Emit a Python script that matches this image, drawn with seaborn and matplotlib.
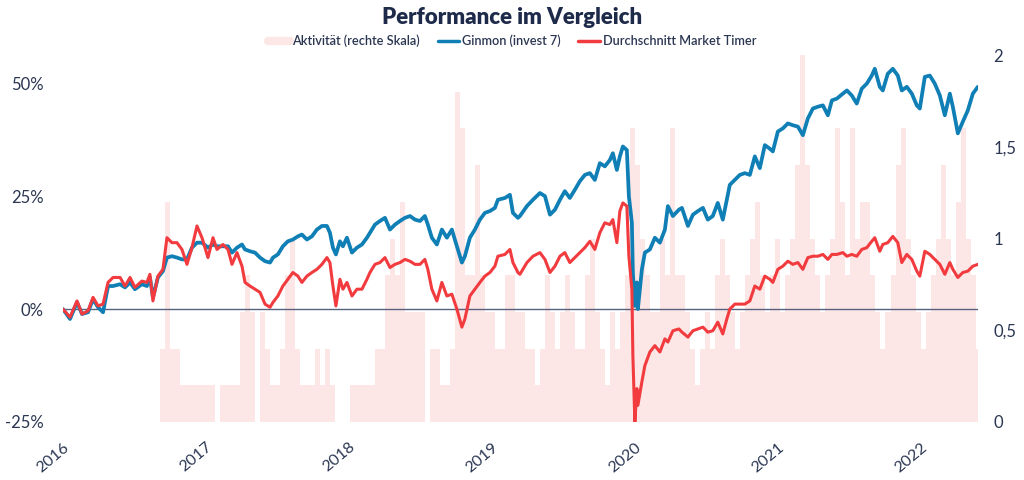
import numpy as np
import pandas as pd
import matplotlib
matplotlib.use("Agg")
import matplotlib.pyplot as plt
import seaborn as sns
from matplotlib.lines import Line2D
from matplotlib.ticker import FuncFormatter

# ---------------- data ----------------
# time in years since start of 2016
years_offset = [
    0.000, 0.049, 0.098, 0.133, 0.175, 0.210, 0.245, 0.280, 0.315, 0.350,
    0.399, 0.434, 0.469, 0.503, 0.552, 0.587, 0.608, 0.629, 0.664, 0.699,
    0.727, 0.762, 0.797, 0.832, 0.867, 0.902, 0.937, 0.972, 1.014, 1.049,
    1.077, 1.119, 1.154, 1.182, 1.217, 1.252, 1.273, 1.308, 1.343, 1.378,
    1.413, 1.448, 1.469, 1.503, 1.538, 1.573, 1.608, 1.643, 1.671, 1.706,
    1.741, 1.776, 1.811, 1.846, 1.867, 1.888, 1.909, 1.937, 1.958, 1.986,
    2.021, 2.056, 2.091, 2.126, 2.147, 2.182, 2.217, 2.252, 2.287, 2.322,
    2.357, 2.392, 2.427, 2.462, 2.497, 2.531, 2.552, 2.580, 2.615, 2.650,
    2.685, 2.720, 2.755, 2.790, 2.811, 2.846, 2.881, 2.916, 2.951, 2.986,
    3.021, 3.042, 3.091, 3.126, 3.147, 3.182, 3.196, 3.245, 3.287, 3.336,
    3.371, 3.406, 3.441, 3.476, 3.510, 3.545, 3.580, 3.615, 3.650, 3.685,
    3.720, 3.755, 3.790, 3.825, 3.846, 3.874, 3.895, 3.916, 3.944, 3.958,
    3.979, 3.986, 4.000, 4.014, 4.021, 4.049, 4.070, 4.105, 4.140, 4.175,
    4.210, 4.231, 4.266, 4.308, 4.329, 4.371, 4.406, 4.441, 4.476, 4.510,
    4.545, 4.580, 4.615, 4.643, 4.664, 4.699, 4.734, 4.769, 4.804, 4.839,
    4.874, 4.909, 4.944, 4.965, 5.000, 5.035, 5.070, 5.105, 5.140, 5.175,
    5.210, 5.245, 5.280, 5.315, 5.350, 5.378, 5.413, 5.455, 5.483, 5.517,
    5.552, 5.587, 5.622, 5.657, 5.678, 5.713, 5.734, 5.769, 5.804, 5.839,
    5.867, 5.902, 5.937, 5.972, 5.993, 6.028, 6.063, 6.098, 6.133, 6.168,
    6.203, 6.224, 6.259, 6.294, 6.329, 6.364, 6.399,
]

# Ginmon (invest 7) performance in %
ginmon = [
    0.0, -2.2, 1.5, -1.1, -0.7, 2.2, 0.4, -0.7, 5.1, 5.1,
    5.5, 4.8, 5.9, 4.4, 5.5, 5.1, 7.0, 2.6, 7.0, 8.4,
    11.4, 11.7, 11.4, 11.0, 11.0, 13.6, 14.7, 14.7, 13.6, 14.3,
    13.9, 13.9, 13.9, 12.5, 13.6, 14.3, 13.2, 12.8, 12.5, 11.4,
    10.6, 10.3, 11.4, 12.1, 13.9, 15.0, 15.4, 16.1, 16.5, 15.4,
    16.1, 17.6, 18.4, 18.4, 16.9, 13.6, 12.1, 15.0, 13.9, 15.8,
    12.5, 13.6, 14.3, 15.8, 16.9, 18.7, 19.5, 20.2, 17.6, 18.7,
    19.5, 20.2, 20.6, 19.8, 19.5, 20.6, 18.7, 15.8, 14.3, 17.6,
    15.8, 17.6, 13.9, 10.3, 11.7, 15.8, 17.6, 19.8, 21.3, 21.7,
    22.4, 24.2, 24.6, 25.3, 21.3, 20.2, 20.6, 22.8, 24.2, 25.7,
    25.0, 20.9, 22.0, 24.2, 26.1, 24.6, 26.4, 28.3, 29.7, 30.1,
    28.6, 32.3, 31.6, 33.0, 34.5, 30.8, 33.8, 36.0, 35.2, 25.0,
    19.1, 8.1, 0.7, 5.9, 0.0, 8.8, 12.5, 13.2, 15.8, 14.7,
    17.6, 22.8, 20.6, 22.0, 22.4, 18.4, 20.9, 21.7, 22.4, 19.8,
    20.6, 23.5, 19.8, 24.2, 27.5, 28.6, 29.7, 30.1, 29.7, 33.8,
    31.2, 36.3, 35.5, 34.9, 39.3, 40.0, 41.1, 40.7, 40.4, 38.5,
    42.2, 44.4, 44.8, 45.1, 42.9, 46.2, 46.6, 47.7, 48.4, 47.3,
    45.5, 48.8, 49.9, 51.7, 53.2, 49.2, 48.4, 52.1, 53.2, 51.7,
    48.4, 49.2, 47.7, 45.1, 44.4, 51.4, 51.7, 49.9, 47.3, 42.9,
    47.7, 44.8, 38.9, 41.5, 44.0, 47.7, 49.2,
]

# Durchschnitt Market Timer performance in %
market_timer = [
    0.0, -1.8, 1.8, -1.1, -0.4, 2.6, 0.7, 1.1, 5.9, 7.0,
    7.0, 5.1, 7.0, 4.8, 6.2, 5.9, 7.7, 1.8, 7.3, 8.8,
    15.8, 14.7, 14.7, 13.2, 9.9, 13.6, 18.4, 15.8, 11.4, 15.8,
    13.2, 14.3, 13.2, 9.9, 12.5, 9.5, 5.9, 5.1, 4.4, 3.7,
    1.1, 0.4, 1.5, 2.9, 5.1, 6.6, 8.1, 7.3, 5.9, 7.3,
    8.1, 8.8, 9.9, 11.4, 10.3, 5.1, 0.7, 6.6, 4.4, 5.9,
    2.9, 4.4, 4.4, 6.6, 8.1, 9.9, 10.3, 11.4, 9.2, 9.9,
    10.3, 11.0, 10.6, 9.9, 9.9, 11.0, 8.8, 4.4, 1.8, 5.9,
    2.9, 3.3, 0.0, -4.0, -2.2, 2.9, 4.4, 5.9, 7.3, 8.1,
    9.5, 11.7, 12.1, 13.2, 10.3, 8.1, 7.7, 10.3, 11.7, 12.5,
    11.0, 8.1, 9.5, 11.7, 12.5, 10.3, 11.4, 12.5, 13.6, 15.0,
    13.2, 16.9, 19.1, 18.7, 19.8, 14.7, 21.7, 23.5, 22.8, 11.7,
    4.4, -10.3, -25.0, -17.6, -21.3, -16.1, -12.5, -9.5, -8.1, -9.5,
    -6.6, -7.3, -4.8, -4.4, -5.1, -6.2, -4.8, -4.4, -4.0, -5.1,
    -4.8, -2.9, -5.5, -2.2, 0.0, 1.1, 1.1, 1.1, 1.8, 5.1,
    4.4, 7.3, 6.6, 5.9, 8.8, 9.5, 10.6, 9.9, 10.3, 8.8,
    11.4, 11.7, 11.7, 12.1, 11.0, 12.1, 12.1, 12.5, 11.7, 12.1,
    11.7, 13.2, 13.6, 15.0, 15.8, 12.8, 14.3, 14.7, 16.1, 14.7,
    10.3, 12.1, 11.0, 8.4, 7.3, 12.8, 12.1, 11.0, 9.9, 7.7,
    10.3, 8.8, 7.0, 8.1, 8.4, 9.5, 9.9,
]

# Aktivitaet (right scale), one value per period of ~13 days
activity_start = 2016.643
activity_step = 0.035
activity = [
    0.0, 0.4, 1.2, 0.4, 0.4, 0.2, 0.2, 0.2, 0.2, 0.2,
    0.2, 0.2, 0.0, 0.2, 0.2, 0.2, 0.2, 0.6, 0.8, 0.6,
    0.0, 0.6, 0.4, 0.2, 0.2, 0.4, 0.8, 1.0, 0.4, 0.2,
    0.2, 0.2, 0.4, 0.2, 0.4, 0.2, 0.0, 0.0, 0.0, 0.2,
    0.2, 0.2, 0.2, 0.2, 0.4, 0.4, 0.8, 1.0, 0.8, 1.2,
    0.6, 0.6, 0.6, 0.6, 0.0, 0.4, 0.4, 0.2, 0.2, 0.4,
    1.8, 1.6, 0.8, 0.8, 1.4, 0.8, 0.6, 0.6, 0.4, 0.4,
    0.8, 0.8, 0.6, 0.6, 0.4, 0.4, 0.2, 0.4, 0.8, 0.6,
    0.4, 0.6, 0.8, 0.6, 0.4, 0.4, 0.8, 1.0, 0.6, 0.4,
    0.2, 0.6, 0.4, 0.6, 0.8, 1.6, 1.4, 1.0, 0.8, 0.6,
    0.6, 1.0, 0.8, 1.6, 0.8, 0.8, 0.6, 0.4, 0.2, 0.4,
    0.6, 0.4, 0.8, 1.0, 0.8, 0.6, 0.4, 0.6, 0.8, 1.0,
    1.2, 0.8, 0.6, 0.8, 1.0, 0.6, 0.8, 1.0, 1.4, 2.0,
    1.4, 1.0, 0.8, 0.6, 0.8, 1.0, 1.6, 1.2, 0.8, 1.6,
    1.0, 1.2, 1.2, 0.8, 0.6, 0.4, 0.6, 0.8, 1.4, 1.6,
    1.0, 0.8, 0.6, 0.4, 0.6, 0.8, 1.0, 1.4, 1.0, 0.8,
    1.2, 1.6, 1.0, 0.8, 0.4,
]

year_ticks = [2016, 2017, 2018, 2019, 2020, 2021, 2022]
left_ticks = [-25, 0, 25, 50]
right_ticks = [0, 0.5, 1, 1.5, 2]
right_labels = ["0", "0,5", "1", "1,5", "2"]

series_names = ["Aktivität (rechte Skala)", "Ginmon (invest 7)", "Durchschnitt Market Timer"]

# ---------------- style ----------------
BLUE = "#0f7fb5"
RED = "#f23b3f"
PINK = "#fde6e6"
TEXT = "#2b3652"
TITLE = "#1d2a4a"

sns.set_theme(style="white")
plt.rcParams["font.family"] = ["Lato", "DejaVu Sans"]

fig = plt.figure(figsize=(10.24, 4.8), dpi=100)
ax = fig.add_axes([63 / 1024, 58 / 480, 915 / 1024, 367 / 480])
ax2 = ax.twinx()

# activity bars on the right scale
bar_x = activity_start + activity_step * np.arange(len(activity))
ax2.bar(bar_x, activity, width=activity_step, align="edge", color=PINK,
        linewidth=0)
ax2.set_ylim(0, 2)

# lines on the left scale
df = pd.DataFrame({
    "Jahr": 2016 + np.array(years_offset),
    "Ginmon": ginmon,
    "Timer": market_timer,
})
ax.axhline(0, color="#56627f", lw=1.0, zorder=1)
sns.lineplot(data=df, x="Jahr", y="Ginmon", ax=ax, color=BLUE, lw=2.7, zorder=2)
sns.lineplot(data=df, x="Jahr", y="Timer", ax=ax, color=RED, lw=2.2, zorder=3)

ax.set_zorder(ax2.get_zorder() + 1)
ax.patch.set_visible(False)

ax.set_xlim(2016, 2016 + 6.4)
ax.set_ylim(-25, 56.25)
ax.set_xlabel("")
ax.set_ylabel("")
ax.set_yticks(left_ticks)
ax.yaxis.set_major_formatter(FuncFormatter(lambda v, p: f"{v:.0f}%"))
ax.set_xticks(year_ticks)
ax.set_xticklabels([str(y) for y in year_ticks], rotation=40, ha="right",
                   rotation_mode="anchor")
ax2.set_yticks(right_ticks)
ax2.set_yticklabels(right_labels)

for a in (ax, ax2):
    for s in a.spines.values():
        s.set_visible(False)
    a.grid(False)
ax.tick_params(axis="y", length=0, pad=14, labelsize=12, labelcolor=TEXT)
ax.tick_params(axis="x", length=0, pad=13, labelsize=11.5, labelcolor=TEXT)
ax2.tick_params(axis="y", length=0, pad=11, labelsize=12, labelcolor=TEXT)

fig.text(0.5, 1 - 17 / 480, "Performance im Vergleich", ha="center",
         va="center", fontsize=16, fontweight="heavy", color=TITLE)

handles = [
    Line2D([0], [0], color=PINK, lw=6),
    Line2D([0], [0], color=BLUE, lw=2.5),
    Line2D([0], [0], color=RED, lw=2.5),
]
fig.legend(handles, series_names, loc="center", bbox_to_anchor=(0.5, 1 - 41 / 480),
           ncol=3, frameon=False, prop={"size": 9.2, "weight": "semibold"},
           handlelength=1.7, handletextpad=0.2, columnspacing=1.4,
           labelcolor=TEXT)

fig.savefig("out.png", dpi=100)
